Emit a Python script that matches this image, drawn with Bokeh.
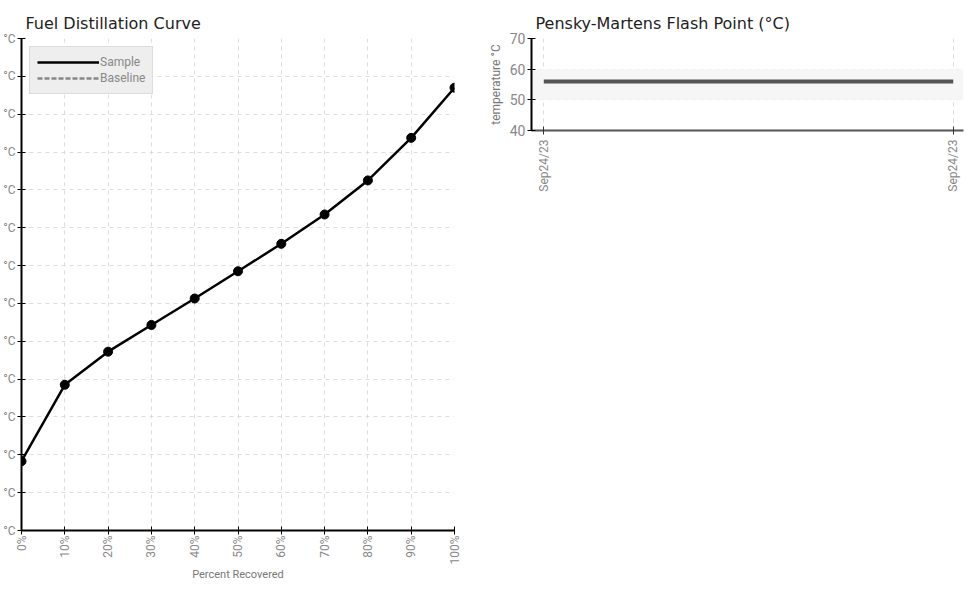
from bokeh.plotting import figure
from bokeh.layouts import row
from bokeh.models import BoxAnnotation, Legend, LegendItem, FixedTicker, Range1d
from bokeh.embed import file_html
from bokeh.resources import INLINE

# ---- data ----
pct_recovered = [0, 10, 20, 30, 40, 50, 60, 70, 80, 90, 100]
sample_temp = [36.6, 77, 94.5, 108.6, 122.6, 137, 151.5, 167, 185, 207.5, 234]
baseline_temp = [float("nan")] * 11
y_ticks = list(range(0, 261, 20))
x_ticks = list(range(0, 101, 10))

flash_dates = ["Sep24/23", "Sep24/23"]
flash_x = [0, 1]
flash_temp = [56, 56]
flash_band = [50, 60]
flash_ticks = [40, 50, 60, 70]

NARROW = "Roboto"
TITLE_FONT = "DejaVu Sans"
GRID = "#dddddd"

# ---- left: distillation curve ----
p = figure(width=466, height=594, output_backend="svg", toolbar_location=None,
           x_range=Range1d(0, 100), y_range=Range1d(0, 260),
           title="Fuel Distillation Curve",
           min_border_left=0, min_border_right=12, min_border_top=38, min_border_bottom=1)
p.title.text_font = TITLE_FONT
p.title.text_font_size = "16px"
p.title.text_font_style = "normal"
p.title.text_color = "#222222"
p.title.offset = 4
p.title.vertical_align = "middle"
p.outline_line_color = None
p.background_fill_color = "white"

for g in (p.xgrid, p.ygrid):
    g.grid_line_color = GRID
    g.grid_line_dash = "4 4"
    g.grid_line_width = 1

p.xaxis.ticker = FixedTicker(ticks=x_ticks)
p.xaxis.major_label_overrides = {t: f"{t}%" for t in x_ticks}
p.xaxis.major_label_orientation = 1.5708
p.xaxis.axis_label = "Percent Recovered"
p.yaxis.ticker = FixedTicker(ticks=y_ticks)
p.yaxis.major_label_overrides = {t: "°C" for t in y_ticks}
for ax in (p.xaxis, p.yaxis):
    ax.axis_line_color = "black"
    ax.axis_line_width = 2
    ax.major_tick_line_color = "black"
    ax.major_tick_in = 4
    ax.major_tick_out = 4
    ax.minor_tick_line_color = None
    ax.major_label_text_font = NARROW
    ax.major_label_text_font_size = "12px"
    ax.major_label_text_color = "#888888"
    ax.axis_label_text_font = NARROW
    ax.axis_label_text_font_size = "11px"
    ax.axis_label_text_font_style = "normal"
    ax.axis_label_text_color = "#777777"
p.yaxis.major_label_standoff = 2
p.xaxis.major_label_standoff = 1
p.xaxis.axis_label_standoff = 0

r_sample = p.line(pct_recovered, sample_temp, line_color="black", line_width=2.5)
p.scatter(pct_recovered, sample_temp, size=9, color="black")
r_base = p.line(pct_recovered, baseline_temp, line_color="#888888", line_width=2.5, line_dash="5 2")

legend = Legend(items=[LegendItem(label="Sample", renderers=[r_sample]),
                       LegendItem(label="Baseline", renderers=[r_base])],
                location="top_left")
legend.background_fill_color = "#eeeeee"
legend.background_fill_alpha = 1
legend.border_line_color = "#cccccc"
legend.label_text_font = NARROW
legend.label_text_font_size = "12px"
legend.label_text_color = "#888888"
legend.glyph_width = 62
legend.glyph_height = 16
legend.label_height = 16
legend.spacing = 0
legend.padding = 7
legend.margin = 8
legend.label_standoff = 1
p.add_layout(legend)

# ---- right: flash point ----
q = figure(width=501, height=194, output_backend="svg", toolbar_location=None,
           x_range=Range1d(-0.03, 1.025), y_range=Range1d(40, 70),
           title="Pensky-Martens Flash Point (°C)",
           min_border_left=65, min_border_right=4, min_border_top=38, min_border_bottom=2)
q.title.text_font = TITLE_FONT
q.title.text_font_size = "16px"
q.title.text_font_style = "normal"
q.title.text_color = "#222222"
q.title.offset = 4
q.title.vertical_align = "middle"
q.outline_line_color = None

for g in (q.xgrid, q.ygrid):
    g.grid_line_color = GRID
    g.grid_line_dash = "4 4"
q.xaxis.ticker = FixedTicker(ticks=flash_x)
q.xaxis.major_label_overrides = {x: d for x, d in zip(flash_x, flash_dates)}
q.xaxis.major_label_orientation = 1.5708
q.yaxis.ticker = FixedTicker(ticks=flash_ticks)
q.yaxis.axis_label = "temperature °C"
for ax in (q.xaxis, q.yaxis):
    ax.axis_line_width = 2
    ax.major_tick_in = 4
    ax.major_tick_out = 4
    ax.minor_tick_line_color = None
    ax.major_label_text_font = NARROW
    ax.major_label_text_font_size = "12px"
    ax.major_label_text_color = "#888888"
    ax.axis_label_text_font = NARROW
    ax.axis_label_text_font_size = "12px"
    ax.axis_label_text_font_style = "normal"
    ax.axis_label_text_color = "#777777"
q.yaxis.axis_line_color = "black"
q.yaxis.major_label_text_font_size = "14px"
q.yaxis.major_label_standoff = 2
q.yaxis.axis_label_standoff = 4
q.xaxis.axis_line_color = "#555555"
q.xaxis.major_tick_line_color = "#333333"

q.add_layout(BoxAnnotation(bottom=flash_band[0], top=flash_band[1],
                           fill_color="#f6f6f6", fill_alpha=1, line_color=None,
                           level="underlay"))
q.line(flash_x, flash_temp, line_color="#555555", line_width=4)

layout = row(p, q)
open("out.html", "w").write(file_html(layout, INLINE))
